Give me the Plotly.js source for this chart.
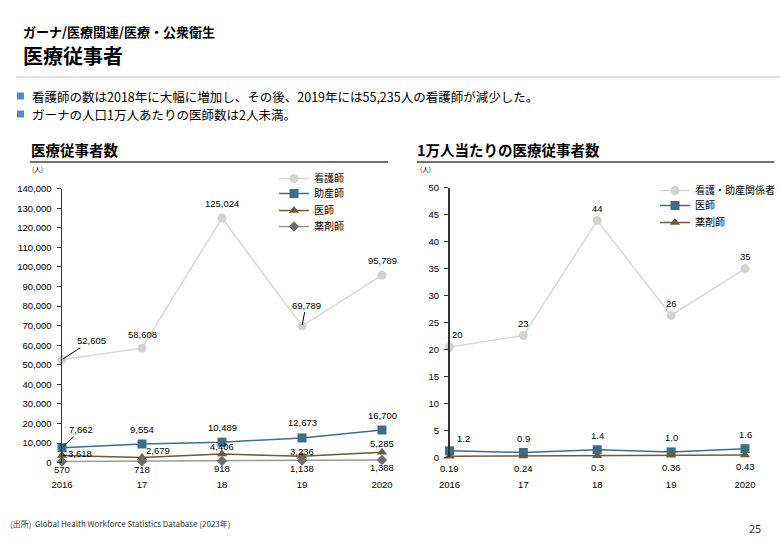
<!DOCTYPE html>
<html>
<head>
<meta charset="utf-8">
<script src="https://cdn.plot.ly/plotly-3.0.1.min.js"></script>
<style>
body { margin: 0; background: #fff; }
#chart { width: 780px; height: 540px; }
</style>
</head>
<body>
<div id="chart"></div>
<script>
// data
var years = [2016, 2017, 2018, 2019, 2020];
var yearLabels = ['2016', '17', '18', '19', '2020'];

var nurses = [52605, 58608, 125024, 69789, 95789];
var midwives = [7662, 9554, 10489, 12673, 16700];
var doctors = [3618, 2679, 4406, 3236, 5285];
var pharmacists = [570, 718, 918, 1138, 1388];

var nursingPer10k = [20.4, 22.6, 43.9, 26.3, 35.0];
var nursingPer10kText = ['20', '23', '44', '26', '35'];
var doctorsPer10k = [1.2, 0.9, 1.4, 1.0, 1.6];
var pharmacistsPer10k = [0.19, 0.24, 0.3, 0.36, 0.43];

var JP = '"Noto Sans CJK JP", "Noto Sans", sans-serif';
var NUM = '"Liberation Sans", Arial, sans-serif';

var GRAY = '#d3d3d3', BLUE = '#3d6e87', BROWN = '#6b5a3c', DARK = '#6e6e6e';

function px(x) { return x / 780; }
function py(y) { return 1 - y / 540; }
function fmt(v) { return v.toLocaleString('en-US'); }

function series(name, xs, ys, color, lineColor, symbol, size, axis, legend) {
	return {
		type: 'scatter', mode: 'lines+markers', name: name,
		x: xs, y: ys,
		xaxis: axis[0], yaxis: axis[1], legend: legend,
		cliponaxis: false, hoverinfo: 'skip',
		line: { color: lineColor, width: 1.5 },
		marker: { color: color, symbol: symbol, size: size }
	};
}

// one legend box per entry so the rows sit as tight as in the reference
var data = [
	series('看護師', years, nurses, GRAY, '#d8d8d8', 'circle', 9, ['x', 'y'], 'legend'),
	series('助産師', years, midwives, BLUE, BLUE, 'square', 9, ['x', 'y'], 'legend2'),
	series('医師', years, doctors, BROWN, BROWN, 'triangle-up', 9, ['x', 'y'], 'legend3'),
	series('薬剤師', years, pharmacists, DARK, '#9a9a9a', 'diamond', 8, ['x', 'y'], 'legend4'),

	series('看護・助産関係者', years, nursingPer10k, GRAY, '#d8d8d8', 'circle', 9, ['x2', 'y2'], 'legend5'),
	series('医師', years, doctorsPer10k, BLUE, BLUE, 'square', 9, ['x2', 'y2'], 'legend6'),
	series('薬剤師', years, pharmacistsPer10k, BROWN, BROWN, 'triangle-up', 9, ['x2', 'y2'], 'legend7')
];

var annotations = [];

function label(xr, yr, x, y, text, dx, dy) {
	annotations.push({
		xref: xr, yref: yr, x: x, y: y, text: text, showarrow: false,
		xshift: dx, yshift: dy, font: { family: NUM, size: 9.5, color: '#000' }
	});
}

function leader(xr, yr, x, y, text, ax, ay) {
	annotations.push({
		xref: xr, yref: yr, x: x, y: y, text: text, showarrow: true,
		ax: ax, ay: ay, arrowhead: 0, arrowwidth: 1, arrowcolor: '#000', standoff: 1,
		font: { family: NUM, size: 9.5, color: '#000' }
	});
}

// left chart labels
var nurseShift = [null, 14, 15, null, 15];
years.forEach(function (yr, i) {
	if (nurseShift[i] !== null) label('x', 'y', yr, nurses[i], fmt(nurses[i]), 0, nurseShift[i]);
	if (i > 0) label('x', 'y', yr, midwives[i], fmt(midwives[i]), 0, 15);
	label('x', 'y', yr, pharmacists[i], fmt(pharmacists[i]), 0, -8);
});
leader('x', 'y', years[0], nurses[0], fmt(nurses[0]), 29, -19);
leader('x', 'y', years[3], nurses[3], fmt(nurses[3]), 4, -21);
leader('x', 'y', years[0], midwives[0], fmt(midwives[0]), 19, -18);
leader('x', 'y', years[0], doctors[0], fmt(doctors[0]), 18, -2);
label('x', 'y', years[1], doctors[1], fmt(doctors[1]), 16, 7);
label('x', 'y', years[2], doctors[2], fmt(doctors[2]), 0, 8);
label('x', 'y', years[3], doctors[3], fmt(doctors[3]), 0, 5);
label('x', 'y', years[4], doctors[4], fmt(doctors[4]), 0, 9);

// right chart labels
years.forEach(function (yr, i) {
	label('x2', 'y2', yr, nursingPer10k[i], nursingPer10kText[i], i === 0 ? 8 : 0, i === 0 ? 13 : 12);
	label('x2', 'y2', yr, doctorsPer10k[i], doctorsPer10k[i].toFixed(1), i === 0 ? 14 : 0, i === 0 ? 12 : 14);
	label('x2', 'y2', yr, pharmacistsPer10k[i], String(pharmacistsPer10k[i]), 0, -12);
});

// page texts
function text(x, y, t, size, opts) {
	opts = opts || {};
	annotations.push({
		xref: 'paper', yref: 'paper', x: px(x), y: py(y), text: t, showarrow: false,
		xanchor: opts.anchor || 'left', yanchor: 'middle',
		font: { family: opts.family || JP, size: size, color: opts.color || '#000' }
	});
}
text(21, 32, '<b>ガーナ/医療関連/医療・公衆衛生</b>', 13);
text(21, 55, '<b>医療従事者</b>', 20);
text(30, 96, '看護師の数は2018年に大幅に増加し、その後、2019年には55,235人の看護師が減少した。', 12.5);
text(30, 114, 'ガーナの人口1万人あたりの医師数は2人未満。', 12.5);
text(29, 149, '<b>医療従事者数</b>', 14.5);
text(415, 149, '<b>1万人当たりの医療従事者数</b>', 14.5);
text(30, 169, '(人)', 6.5);
text(418, 169, '(人)', 6.5);
text(8, 523, '(出所)  Global Health Workforce Statistics Database (2023年)', 8, { color: '#333' });
text(763, 528, '25', 11, { anchor: 'right', color: '#333' });

var shapes = [
	{ type: 'line', xref: 'paper', yref: 'paper', x0: px(16), x1: px(780), y0: py(77), y1: py(77), line: { color: '#c0c0c0', width: 1 } },
	{ type: 'line', xref: 'paper', yref: 'paper', x0: px(30), x1: px(388), y0: py(162), y1: py(162), line: { color: '#404040', width: 1.5 } },
	{ type: 'line', xref: 'paper', yref: 'paper', x0: px(417), x1: px(774), y0: py(162), y1: py(162), line: { color: '#404040', width: 1.5 } },
	{ type: 'rect', xref: 'paper', yref: 'paper', x0: px(17), x1: px(24), y0: py(92.5), y1: py(99.5), fillcolor: '#5b86c5', line: { width: 0 } },
	{ type: 'rect', xref: 'paper', yref: 'paper', x0: px(17), x1: px(24), y0: py(110.5), y1: py(117.5), fillcolor: '#5b86c5', line: { width: 0 } }
];

function xAxis(domain, standoff) {
	return {
		domain: domain, range: [2016, 2020], showgrid: false, zeroline: false, showline: false,
		tickmode: 'array', tickvals: years, ticktext: yearLabels, ticks: '',
		ticklabelstandoff: standoff, tickfont: { family: NUM, size: 9.5, color: '#000' }, fixedrange: true
	};
}
function yAxis(domain, range, dtick, format) {
	return {
		domain: domain, range: range, dtick: dtick, tickformat: format,
		showgrid: false, zeroline: false, showline: true, linecolor: '#333', linewidth: 1.5,
		ticks: 'outside', ticklen: 4, tickcolor: '#333', ticklabelstandoff: 3,
		tickfont: { family: NUM, size: 9.5, color: '#000' }, fixedrange: true
	};
}

function legendAt(x, yCenter) {
	return {
		x: px(x), y: py(yCenter - 14), xanchor: 'left', yanchor: 'top', bgcolor: 'rgba(0,0,0,0)',
		font: { family: JP, size: 10, color: '#000' }, itemclick: false
	};
}

var layout = {
	width: 780, height: 540,
	margin: { l: 0, r: 0, t: 0, b: 0, autoexpand: false },
	paper_bgcolor: '#fff', plot_bgcolor: 'rgba(0,0,0,0)',
	showlegend: true,
	xaxis: xAxis([px(62), px(382)], 15),
	yaxis: yAxis([py(462.7), py(188.7)], [0, 140000], 10000, ',d'),
	xaxis2: Object.assign(xAxis([px(449.5), px(745)], 20), { anchor: 'y2' }),
	yaxis2: Object.assign(yAxis([py(457.3), py(187.7)], [0, 50], 5, 'd'), { anchor: 'x2' }),
	legend: legendAt(274, 178),
	legend2: legendAt(274, 193),
	legend3: legendAt(274, 210),
	legend4: legendAt(274, 226),
	legend5: legendAt(655, 190),
	legend6: legendAt(655, 205),
	legend7: legendAt(655, 222),
	annotations: annotations,
	shapes: shapes
};

Plotly.newPlot('chart', data, layout, { displayModeBar: false, staticPlot: true });
</script>
</body>
</html>
